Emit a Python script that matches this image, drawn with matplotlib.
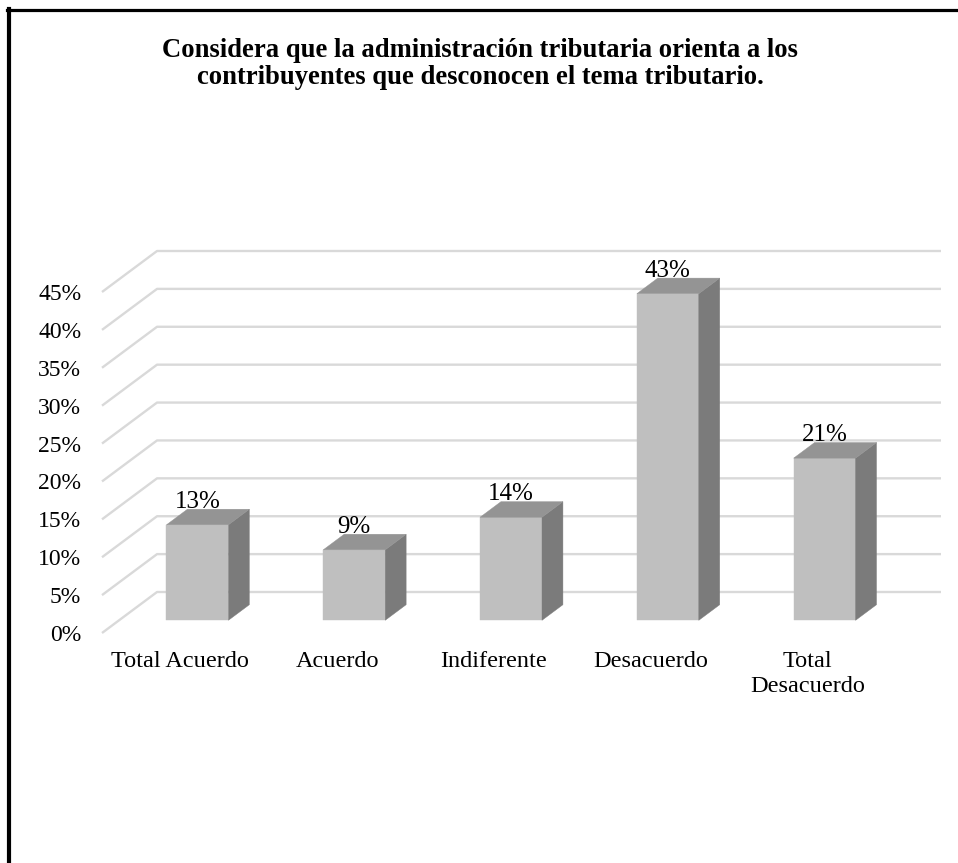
import matplotlib
matplotlib.use("Agg")
import matplotlib.pyplot as plt
from matplotlib.patches import Polygon
from matplotlib.lines import Line2D

categories = ["Total Acuerdo", "Acuerdo", "Indiferente", "Desacuerdo", "Total\nDesacuerdo"]
values = [12.6, 9.3, 13.6, 43.1, 21.4]
yticks = [0, 5, 10, 15, 20, 25, 30, 35, 40, 45]
title = ("Considera que la administración tributaria orienta a los\n"
         "contribuyentes que desconocen el tema tributario.")

FONT = "Liberation Serif"
FRONT, TOP, SIDE = "#bfbfbf", "#949494", "#7b7b7b"
GRID = "#d9d9d9"

# oblique 3d offsets in data units (floor depth)
DX, DY = 0.351, 5.41
F0, F1 = 0.31, 0.69     # bar front/back depth fraction
BW = 0.395              # bar width

fig = plt.figure(figsize=(9.58, 8.63), dpi=100)
ax = fig.add_axes([102 / 958, 1 - 633 / 863, 839 / 958, 382 / 863])
ax.set_xlim(-0.5, len(categories) - 0.5 + DX)
ax.set_ylim(0, yticks[-1] + DY)
for s in ax.spines.values():
    s.set_visible(False)

# back wall gridlines + left wall diagonals
for v in yticks:
    ax.plot([-0.5, -0.5 + DX, len(categories) - 0.5 + DX], [v, v + DY, v + DY],
            color=GRID, lw=1.7, zorder=1, clip_on=False, solid_capstyle="butt")

for i, v in enumerate(values):
    x0 = i + F0 * DX - BW / 2
    x1 = x0 + BW
    y0 = F0 * DY
    y1 = y0 + v
    ddx, ddy = (F1 - F0) * DX, (F1 - F0) * DY
    ax.add_patch(Polygon([(x0, y0), (x1, y0), (x1, y1), (x0, y1)],
                         closed=True, fc=FRONT, ec=FRONT, lw=0.3, zorder=3))
    ax.add_patch(Polygon([(x1, y0), (x1 + ddx, y0 + ddy), (x1 + ddx, y1 + ddy), (x1, y1)],
                         closed=True, fc=SIDE, ec=SIDE, lw=0.3, zorder=3))
    ax.add_patch(Polygon([(x0, y1), (x1, y1), (x1 + ddx, y1 + ddy), (x0 + ddx, y1 + ddy)],
                         closed=True, fc=TOP, ec=TOP, lw=0.3, zorder=3))
    ax.text((x0 + x1) / 2, y1 + 2.25, f"{v:.0f}%", ha="center", va="baseline",
            fontsize=18, family=FONT, zorder=4)

ax.set_yticks(yticks)
ax.set_yticklabels([f"{t}%" for t in yticks], fontsize=17, family=FONT)
ax.set_xticks(range(len(categories)))
ax.set_xticklabels(categories, fontsize=17.5, family=FONT, linespacing=1.25)
ax.tick_params(axis="y", length=0, pad=15)
ax.tick_params(axis="x", length=0, pad=13)

fig.text(480 / 958, 1 - 64 / 863, title, ha="center", va="center",
         fontsize=19.2, fontweight="bold", family=FONT, linespacing=1.12)

# frame (left and top edges only, as in the source)
fig.add_artist(Line2D([9 / 958, 9 / 958], [0, 1 - 9 / 863], color="black", lw=3,
                      transform=fig.transFigure))
fig.add_artist(Line2D([7 / 958, 1], [1 - 10.5 / 863, 1 - 10.5 / 863], color="black",
                      lw=2.3, transform=fig.transFigure))

fig.savefig("out.png", dpi=100)
